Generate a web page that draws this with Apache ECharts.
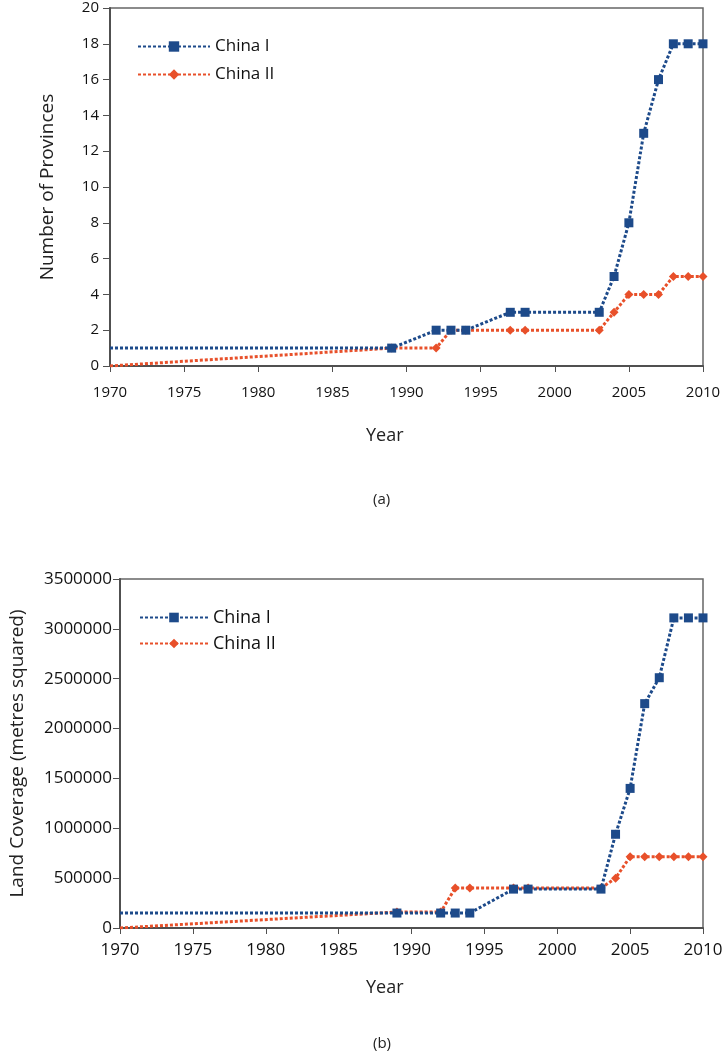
<!DOCTYPE html>
<html>
<head>
<meta charset="utf-8">
<script src="https://cdn.jsdelivr.net/npm/echarts@6/dist/echarts.min.js"></script>
<style>
html,body{margin:0;padding:0;background:#fff;}
#chart{width:728px;height:1055px;}
</style>
</head>
<body>
<div id="chart"></div>
<script>
// ---- data ----
const years = [1970, 1989, 1992, 1993, 1994, 1997, 1998, 2003, 2004, 2005, 2006, 2007, 2008, 2009, 2010];
const provincesChinaI  = [1, 1, 2, 2, 2, 3, 3, 3, 5, 8, 13, 16, 18, 18, 18];
const provincesChinaII = [0, 1, 1, 2, 2, 2, 2, 2, 3, 4, 4, 4, 5, 5, 5];
const coverageChinaI  = [150000, 150000, 150000, 150000, 150000, 390000, 390000, 390000, 940000, 1400000, 2250000, 2510000, 3110000, 3110000, 3110000];
const coverageChinaII = [0, 160000, 160000, 400000, 400000, 400000, 400000, 400000, 500000, 715000, 715000, 715000, 715000, 715000, 715000];
const seriesNames = ['China I', 'China II'];
const xTitle = 'Year';
const yTitleA = 'Number of Provinces';
const yTitleB = 'Land Coverage (metres squared)';
const panelLabels = ['(a)', '(b)'];

const BLUE = '#1d4a8a';
const RED = '#e8502a';
const AXIS = '#505050';
const FONT = 'Open Sans';
const plain = v => String(v);

function pairs(vals) {
  return years.map((y, i) => {
    const item = { value: [y, vals[i]] };
    if (i === 0) item.symbol = 'none';
    return item;
  });
}

function xAxisFor(gridIndex, fs, margin) {
  return {
    type: 'value', gridIndex, min: 1970, max: 2010, interval: 5,
    axisLine: { show: true, onZero: false, lineStyle: { color: AXIS, width: 2 } },
    axisTick: { show: true, length: 6, lineStyle: { color: AXIS, width: 1 } },
    axisLabel: { fontFamily: FONT, fontSize: fs, color: '#111', margin, formatter: plain },
    splitLine: { show: false }
  };
}
function yAxisFor(gridIndex, max, interval, name, fs, nameFs, nameGap, margin) {
  return {
    type: 'value', gridIndex, min: 0, max, interval,
    name, nameLocation: 'middle', nameGap,
    nameTextStyle: { fontFamily: FONT, fontSize: nameFs, color: '#222' },
    axisLine: { show: true, lineStyle: { color: AXIS, width: 2 } },
    axisTick: { show: true, length: 7, lineStyle: { color: AXIS, width: 1 } },
    axisLabel: { fontFamily: FONT, fontSize: fs, color: '#111', margin, formatter: plain },
    splitLine: { show: false }
  };
}
function lineSeries(name, vals, idx, color, symbol, size, z) {
  return {
    name, type: 'line', xAxisIndex: idx, yAxisIndex: idx,
    data: pairs(vals), symbol, symbolSize: size, z,
    showAllSymbol: true,
    lineStyle: { color, width: 3, type: [3, 2] },
    itemStyle: { color },
    emphasis: { disabled: true },
    animation: false
  };
}

const chart = echarts.init(document.getElementById('chart'), null, { renderer: 'canvas' });
chart.setOption({
  backgroundColor: '#fff',
  animation: false,
  grid: [
    { left: 110, top: 8, width: 593, height: 358, show: true, borderColor: '#666', borderWidth: 1.5, backgroundColor: 'transparent' },
    { left: 108, top: 579, width: 595, height: 349, show: true, borderColor: '#666', borderWidth: 1.5, backgroundColor: 'transparent' }
  ],
  xAxis: [xAxisFor(0, 15, 19), xAxisFor(1, 17, 14)],
  yAxis: [
    yAxisFor(0, 20, 2, yTitleA, 15, 19, 53, 11),
    yAxisFor(1, 3500000, 500000, yTitleB, 17, 19, 93, 8)
  ],
  legend: [
    {
      data: seriesNames, orient: 'vertical', left: 132, top: 33,
      itemWidth: 72, itemHeight: 13, itemGap: 11,
      textStyle: { fontFamily: FONT, fontSize: 17, color: '#111', lineHeight: 17 },
      lineStyle: { width: 2 },
      selectedMode: false
    },
    {
      data: seriesNames.map(n => n), orient: 'vertical', left: 134, top: 603,
      itemWidth: 68, itemHeight: 12, itemGap: 7,
      textStyle: { fontFamily: FONT, fontSize: 18, color: '#111', lineHeight: 19 },
      lineStyle: { width: 2 },
      selectedMode: false
    }
  ],
  series: [
    lineSeries(seriesNames[0], provincesChinaI, 0, BLUE, 'rect', 9, 4),
    lineSeries(seriesNames[1], provincesChinaII, 0, RED, 'diamond', 9, 3),
    lineSeries(seriesNames[0], coverageChinaI, 1, BLUE, 'rect', 9, 4),
    lineSeries(seriesNames[1], coverageChinaII, 1, RED, 'diamond', 9, 3)
  ],
  graphic: [
    { type: 'text', left: 366, top: 427, style: { text: xTitle, font: '18px "Open Sans"', fill: '#222' } },
    { type: 'text', left: 373, top: 492, style: { text: panelLabels[0], font: '15px "Open Sans"', fill: '#222' } },
    { type: 'text', left: 366, top: 979, style: { text: xTitle, font: '18px "Open Sans"', fill: '#222' } },
    { type: 'text', left: 373, top: 1036, style: { text: panelLabels[1], font: '15px "Open Sans"', fill: '#222' } }
  ]
});
</script>
</body>
</html>
